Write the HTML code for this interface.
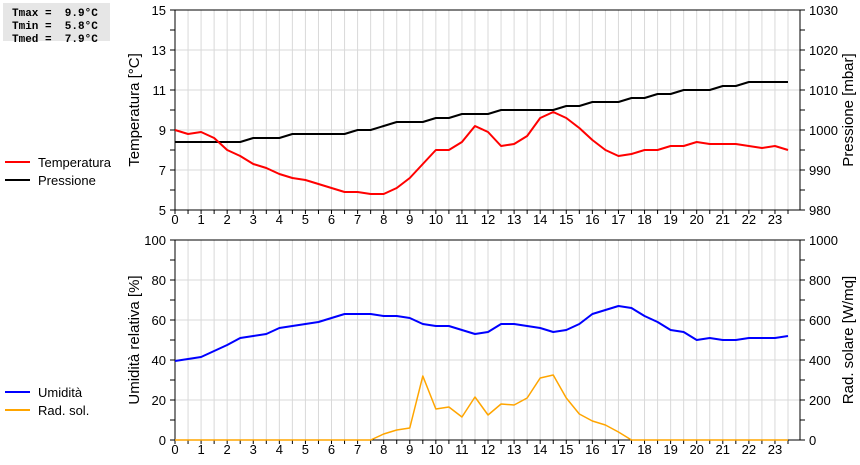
<!DOCTYPE html>
<html><head><meta charset="utf-8"><style>
body{margin:0;background:#fff;width:860px;height:460px;overflow:hidden;font-family:"Liberation Sans",sans-serif}
svg text{font-family:"Liberation Sans",sans-serif;font-size:13px;fill:#000}
</style></head><body>
<svg id="c" width="860" height="460" xmlns="http://www.w3.org/2000/svg">
<rect x="3" y="3" width="107" height="38" fill="#e6e6e6"/>
<text x="12" y="16" style="font-family:'Liberation Mono',monospace;font-size:11px;font-weight:bold;white-space:pre">Tmax =  9.9°C</text>
<text x="12" y="29" style="font-family:'Liberation Mono',monospace;font-size:11px;font-weight:bold;white-space:pre">Tmin =  5.8°C</text>
<text x="12" y="42" style="font-family:'Liberation Mono',monospace;font-size:11px;font-weight:bold;white-space:pre">Tmed =  7.9°C</text>
<g>
<line x1="5" y1="162" x2="30" y2="162" stroke="#f00" stroke-width="2"/><text x="38" y="167">Temperatura</text>
<line x1="5" y1="180" x2="30" y2="180" stroke="#000" stroke-width="2"/><text x="38" y="185">Pressione</text>
</g>
<g>
<line x1="5" y1="392" x2="30" y2="392" stroke="#00f" stroke-width="2"/><text x="38" y="397">Umidità</text>
<line x1="5" y1="410" x2="30" y2="410" stroke="#ffa500" stroke-width="2"/><text x="38" y="415">Rad. sol.</text>
</g>
<g id="g"></g>
</svg>
<script>
const hours=[0,0.5,1,1.5,2,2.5,3,3.5,4,4.5,5,5.5,6,6.5,7,7.5,8,8.5,9,9.5,10,10.5,11,11.5,12,12.5,13,13.5,14,14.5,15,15.5,16,16.5,17,17.5,18,18.5,19,19.5,20,20.5,21,21.5,22,22.5,23,23.5];
const temperatura=[9.0,8.8,8.9,8.6,8.0,7.7,7.3,7.1,6.8,6.6,6.5,6.3,6.1,5.9,5.9,5.8,5.8,6.1,6.6,7.3,8.0,8.0,8.4,9.2,8.9,8.2,8.3,8.7,9.6,9.9,9.6,9.1,8.5,8.0,7.7,7.8,8.0,8.0,8.2,8.2,8.4,8.3,8.3,8.3,8.2,8.1,8.2,8.0];
const pressione=[997,997,997,997,997,997,998,998,998,999,999,999,999,999,1000,1000,1001,1002,1002,1002,1003,1003,1004,1004,1004,1005,1005,1005,1005,1005,1006,1006,1007,1007,1007,1008,1008,1009,1009,1010,1010,1010,1011,1011,1012,1012,1012,1012];
const umidita=[39.5,40.5,41.5,44.5,47.5,51,52,53,56,57,58,59,61,63,63,63,62,62,61,58,57,57,55,53,54,58,58,57,56,54,55,58,63,65,67,66,62,59,55,54,50,51,50,50,51,51,51,52];
const radiazione=[0,0,0,0,0,0,0,0,0,0,0,0,0,0,0,0,30,50,60,320,155,165,115,215,125,180,175,210,310,325,210,130,95,75,40,0,0,0,0,0,0,0,0,0,0,0,0,0];
const xTicks=[0,1,2,3,4,5,6,7,8,9,10,11,12,13,14,15,16,17,18,19,20,21,22,23];
const tempTicks=[5,7,9,11,13,15];
const presTicks=[980,990,1000,1010,1020,1030];
const humTicks=[0,20,40,60,80,100];
const radTicks=[0,200,400,600,800,1000];
const NS="http://www.w3.org/2000/svg",G=document.getElementById('g');
const X0=175,X1=800,XMAX=23.96;
const x=h=>X0+h/XMAX*(X1-X0);
function el(t,a,p){const e=document.createElementNS(NS,t);for(const k in a)e.setAttribute(k,a[k]);(p||G).appendChild(e);return e;}
function panel(top,bot,lT,lMin,lMax,rT,rMin,rMax,lTitle,rTitle,nm){
 const yl=v=>bot-(v-lMin)/(lMax-lMin)*(bot-top);
 const g=el('g',{});
 
 
 for(let h=0.5;h<24;h+=0.5){el('line',{x1:x(h),x2:x(h),y1:top,y2:bot,stroke:'#d9d9d9'},g);}
 const nMin=(lT.length-1)*2;
 for(let i=0;i<=nMin;i++){const y=top+i*(bot-top)/nMin;
  if(i%2==0&&i>0&&i<nMin)el('line',{x1:X0,x2:X1,y1:y,y2:y,stroke:'#d9d9d9'},g);
  el('line',{x1:X0-5,x2:X0,y1:y,y2:y,stroke:'#000'},g);el('line',{x1:X1,x2:X1+5,y1:y,y2:y,stroke:'#000'},g);}
 el('rect',{x:X0,y:top,width:X1-X0,height:bot-top,fill:'none',stroke:'#000'},g);
 for(let h=0;h<24;h+=0.5)el('line',{x1:x(h),x2:x(h),y1:bot,y2:bot+4,stroke:'#000'},g);
 xTicks.forEach(t=>{const e=el('text',{x:x(t),y:bot+14,'text-anchor':'middle'},g);e.textContent=t;
  
  });
 lT.forEach(t=>{const e=el('text',{x:X0-9,y:yl(t)+5,'text-anchor':'end'},g);e.textContent=t;
  
  });
 rT.forEach(t=>{const y=bot-(t-rMin)/(rMax-rMin)*(bot-top);const e=el('text',{x:X1+9,y:y+5},g);e.textContent=t;
  
  });
 const cy=(top+bot)/2;
 let e=el('text',{x:0,y:0,transform:`translate(139,${cy}) rotate(-90)`,'text-anchor':'middle',style:'font-size:15px'},g);e.textContent=lTitle;
 
 
 e=el('text',{x:0,y:0,transform:`translate(853,${cy}) rotate(-90)`,'text-anchor':'middle',style:'font-size:15px'},g);e.textContent=rTitle;
 
 
}
function series(vals,min,max,top,bot,color,w,nm){
 const pts=vals.map((v,i)=>x(hours[i])+','+(bot-(v-min)/(max-min)*(bot-top))).join(' ');
 const p=el('polyline',{points:pts,fill:'none',stroke:color,'stroke-width':w,'stroke-linejoin':'round'});
 
 
}
panel(10,210,tempTicks,5,15,presTicks,980,1030,'Temperatura [°C]','Pressione [mbar]','top');
series(pressione,980,1030,10,210,'#000',2,'pressione-line');
series(temperatura,5,15,10,210,'#f00',2,'temperatura-line');
panel(240,440,humTicks,0,100,radTicks,0,1000,'Umidità relativa [%]','Rad. solare [W/mq]','bottom');
series(radiazione,0,1000,240,440,'#ffa500',1.5,'radiazione-line');
series(umidita,0,100,240,440,'#00f',2,'umidita-line');
</script>
</body></html>
